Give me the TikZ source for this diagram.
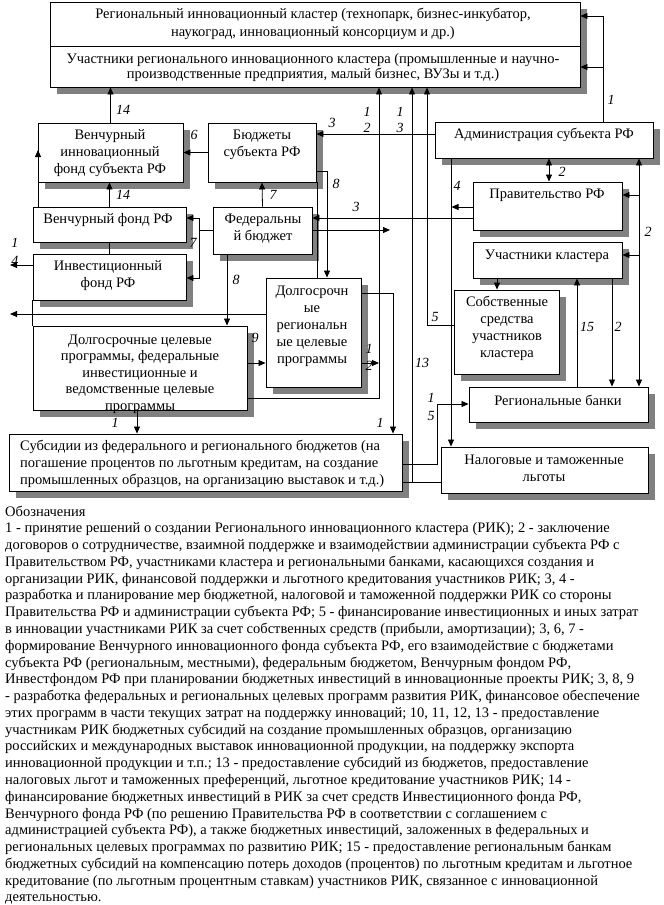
\documentclass[tikz,border=0pt]{standalone}
\usepackage{fontspec}
\setmainfont{Liberation Serif}
\usetikzlibrary{arrows.meta,shadows}
\begin{document}
\begin{tikzpicture}[x=1pt,y=-1pt,
  box/.style={draw=black, line width=0.9pt, fill=white, inner sep=0pt,
    drop shadow={shadow xshift=7pt, shadow yshift=-7pt, opacity=1, fill=black!50}},
  txt/.style={inner sep=0pt, align=center, font=\fontsize{14.5}{17}\selectfont},
  lbl/.style={inner sep=0pt, font=\fontsize{14}{14}\selectfont\itshape},
  leg/.style={inner sep=0pt, anchor=base west, font=\fontsize{14.5}{17}\selectfont},
  ln/.style={line width=0.8pt},
  ar/.style={line width=0.8pt, -{Triangle[length=7pt,width=6pt]}},
  dar/.style={line width=0.8pt, {Triangle[length=7pt,width=6pt]}-{Triangle[length=7pt,width=6pt]}},
]
\fill[white] (0,0) rectangle (664,905);
\useasboundingbox (0,0) rectangle (664,905);

% boxes
\node[box, minimum width=530pt, minimum height=44pt] (rik) at (315,24) {};
\node[box, minimum width=530pt, minimum height=41pt] (uch) at (315,66.5) {};
\node[box, minimum width=145pt, minimum height=59pt] (vif) at (110.5,152.5) {};
\node[box, minimum width=108pt, minimum height=59pt] (bud) at (262,152.5) {};
\node[box, minimum width=153pt, minimum height=35pt] (vf) at (109.5,224.5) {};
\node[box, minimum width=99pt, minimum height=47pt] (fb) at (262.5,230.5) {};
\node[box, minimum width=153pt, minimum height=46pt] (inf) at (109.5,277) {};
\node[box, minimum width=95pt, minimum height=109pt] (dlr) at (313.5,332.5) {};
\node[box, minimum width=214pt, minimum height=84pt] (dlc) at (140,368) {};
\node[box, minimum width=393pt, minimum height=57pt] (sub) at (205.5,462.5) {};
\node[box, minimum width=218pt, minimum height=36pt] (adm) at (544,140) {};
\node[box, minimum width=149pt, minimum height=48pt] (prav) at (547.5,206) {};
\node[box, minimum width=149pt, minimum height=36pt] (uk) at (547.5,260) {};
\node[box, minimum width=105pt, minimum height=84pt] (sob) at (506.5,332) {};
\node[box, minimum width=179pt, minimum height=35pt] (rb) at (558.5,404.5) {};
\node[box, minimum width=207pt, minimum height=46pt] (nal) at (544.5,470) {};

% box texts
\node[txt, font=\fontsize{14.5}{18}\selectfont] (trik) at (313,24) {Региональный инновационный кластер (технопарк, бизнес-инкубатор,\\наукоград, инновационный консорциум и др.)};
\node[txt, font=\fontsize{14.5}{15}\selectfont] (tuch) at (313,68) {Участники регионального инновационного кластера (промышленные и научно-\\производственные предприятия, малый бизнес, ВУЗы и т.д.)};
\node[txt] (tvif) at (110,153.5) {Венчурный\\инновационный\\фонд субъекта РФ};
\node[txt] (tbud) at (262,144.5) {Бюджеты\\субъекта РФ};
\node[txt] (tvf) at (108,220) {Венчурный фонд РФ};
\node[txt] (tfb) at (263,228.5) {Федеральны\\й бюджет};
\node[txt] (tinf) at (108,275.5) {Инвестиционный\\фонд РФ};
\node[txt] (tdlr) at (312,326) {Долгосрочн\\ые\\региональн\\ые целевые\\программы};
\node[txt, font=\fontsize{14.5}{16.5}\selectfont] (tdlc) at (140,374) {Долгосрочные целевые\\программы, федеральные\\инвестиционные и\\ведомственные целевые\\программы};
\node[txt, align=left, anchor=west] (tsub) at (20,464) {Субсидии из федерального и регионального бюджетов (на\\погашение процентов по льготным кредитам, на создание\\промышленных образцов, на организацию выставок и т.д.)};
\node[txt] (tadm) at (544,135) {Администрация субъекта РФ};
\node[txt] (tprav) at (547,195) {Правительство РФ};
\node[txt] (tuk) at (547,256) {Участники кластера};
\node[txt] (tsob) at (507,328.5) {Собственные\\средства\\участников\\кластера};
\node[txt] (trb) at (558,400) {Региональные банки};
\node[txt] (tnal) at (544,468.5) {Налоговые и таможенные\\льготы};

% connectors
\draw[ar] (vif.north) -- (vif.north |- uch.south);
\draw[ar] (vf.north) -- (vf.north |- vif.south);
\draw[ln] (inf.north) -- (vf.south);
\coordinate (lup) at (38,150);
\draw[ar] (vf.north west -| 38,0) -- (lup);
\draw[ln] (inf.south west) -- (dlc.north west);
\coordinate (lft1) at (10,265);
\draw[ar] (inf.west |- lft1) -- (lft1);
\coordinate (lft2) at (10,314);
\draw[ar] (dlr.west |- lft2) -- (lft2);
\draw[ar] (bud.west) -- (vif.east);
\draw[ar] (adm.west |- 0,134) -- (bud.east |- 0,134);
\draw[ar] (fb.north) -- (bud.south);
\coordinate (br) at (199,230.5);
\draw[ar] (fb.west) -- (br) -- (199,218) -- (vf.east |- 0,218);
\draw[ar] (br) -- (199,278) -- (inf.east |- 0,278);
\draw[ar] (prav.west |- 0,218) -- (fb.east |- 0,218);
\coordinate (fbe) at (390,230);
\draw[ar] (fb.east |- fbe) -- (fbe);
\draw[ar] (bud.east |- 0,171) -- (327,171) -- (dlr.north -| 327,0);
\draw[ln] (bud.south -| 317,0) -- (dlr.north -| 317,0);
\draw[ar] (fb.south -| 227,0) -- (dlc.north -| 227,0);
\draw[ar] (dlc.east |- 0,363) -- (dlr.west |- 0,363);
\coordinate (dre) at (379,363);
\draw[ar] (dlr.east |- dre) -- (dre);
\draw[ar] (dlr.east |- 0,293) -- (393,293) -- (sub.north -| 393,0);
\draw[ar] (dlc.south -| 137,0) -- (sub.north -| 137,0);
\draw[ar] (dlc.east |- 0,398) -- (379,398) -- (uch.south -| 379,0);
\draw[ln] (sub.east |- 0,482) -- (nal.west |- 0,482);
\draw[ar] (412,482) -- (uch.south -| 412,0);
\draw[ar] (sub.east |- 0,464) -- (437,464) -- (437,404) -- (rb.west |- 0,404);
\draw[ar] (sob.west |- 0,325) -- (427,325) -- (uch.south -| 427,0);
\draw[ar] (adm.south -| 451,0) -- (nal.north -| 451,0);
\draw[ar] (prav.west |- 0,207) -- (451.5,207);
\draw[ar] (adm.north -| 603,0) -- (603,16) -- (rik.east |- 0,16);
\draw[ar] (603,67) -- (uch.east |- 0,67);
\draw[dar] (adm.south -| 549,0) -- (prav.north -| 549,0);
\draw[dar] (adm.south -| 639,0) -- (rb.north -| 639,0);
\draw[ar] (639,195) -- (prav.east |- 0,195);
\draw[ar] (639,255) -- (uk.east |- 0,255);
\draw[ar] (uk.south -| 612,0) -- (rb.north -| 612,0);
\draw[ar] (rb.north -| 577,0) -- (uk.south -| 577,0);
\draw[ar] (uk.south -| 497,0) -- (sob.north -| 497,0);

% labels
\node[lbl] (n1) at (123,110) {14};
\node[lbl] (n2) at (367,112) {1};
\node[lbl] (n3) at (400,112) {1};
\node[lbl] (n4) at (367,128) {2};
\node[lbl] (n5) at (400,128) {3};
\node[lbl] (n6) at (332,123) {3};
\node[lbl] (n7) at (611,100) {1};
\node[lbl] (n8) at (194,135) {6};
\node[lbl] (n9) at (123,195) {14};
\node[lbl] (n10) at (273,195) {7};
\node[lbl] (n11) at (336,184) {8};
\node[lbl] (n12) at (562,172) {2};
\node[lbl] (n13) at (457,186) {4};
\node[lbl] (n14) at (356,207) {3};
\node[lbl] (n15) at (15,243) {1};
\node[lbl] (n16) at (15,261) {4};
\node[lbl] (n17) at (193,243) {7};
\node[lbl] (n18) at (236,280) {8};
\node[lbl] (n19) at (255,338) {9};
\node[lbl] (n20) at (369,349) {1};
\node[lbl] (n21) at (369,366) {2};
\node[lbl] (n22) at (648,232) {2};
\node[lbl] (n23) at (587,327) {15};
\node[lbl] (n24) at (618,327) {2};
\node[lbl] (n25) at (435,317) {5};
\node[lbl] (n26) at (422,363) {13};
\node[lbl] (n27) at (431,398) {1};
\node[lbl] (n28) at (431,416) {5};
\node[lbl] (n29) at (380,423) {1};
\node[lbl] (n30) at (115,423) {1};

% legend
\foreach \t [count=\i] in {
{Обозначения},
{1 - принятие решений о создании Регионального инновационного кластера (РИК); 2 - заключение},
{договоров о сотрудничестве, взаимной поддержке и взаимодействии администрации субъекта РФ с},
{Правительством РФ, участниками кластера и региональными банками, касающихся создания и},
{организации РИК, финансовой поддержки и льготного кредитования участников РИК; 3, 4 -},
{разработка и планирование мер бюджетной, налоговой и таможенной поддержки РИК со стороны},
{Правительства РФ и администрации субъекта РФ; 5 - финансирование инвестиционных и иных затрат},
{в инновации участниками РИК за счет собственных средств (прибыли, амортизации); 3, 6, 7 -},
{формирование Венчурного инновационного фонда субъекта РФ, его взаимодействие с бюджетами},
{субъекта РФ (региональным, местными), федеральным бюджетом, Венчурным фондом РФ,},
{Инвестфондом РФ при планировании бюджетных инвестиций в инновационные проекты РИК; 3, 8, 9},
{- разработка федеральных и региональных целевых программ развития РИК, финансовое обеспечение},
{этих программ в части текущих затрат на поддержку инноваций; 10, 11, 12, 13 - предоставление},
{участникам РИК бюджетных субсидий на создание промышленных образцов, организацию},
{российских и международных выставок инновационной продукции, на поддержку экспорта},
{инновационной продукции и т.п.; 13 - предоставление субсидий из бюджетов, предоставление},
{налоговых льгот и таможенных преференций, льготное кредитование участников РИК; 14 -},
{финансирование бюджетных инвестиций в РИК за счет средств Инвестиционного фонда РФ,},
{Венчурного фонда РФ (по решению Правительства РФ в соответствии с соглашением с},
{администрацией субъекта РФ), а также бюджетных инвестиций, заложенных в федеральных и},
{региональных целевых программах по развитию РИК; 15 - предоставление региональным банкам},
{бюджетных субсидий на компенсацию потерь доходов (процентов) по льготным кредитам и льготное},
{кредитование (по льготным процентным ставкам) участников РИК, связанное с инновационной},
{деятельностью.}
}{\node[leg] (leg\i) at (5,{516+16.78*(\i-1)}) {\t};}
\end{tikzpicture}
\end{document}
